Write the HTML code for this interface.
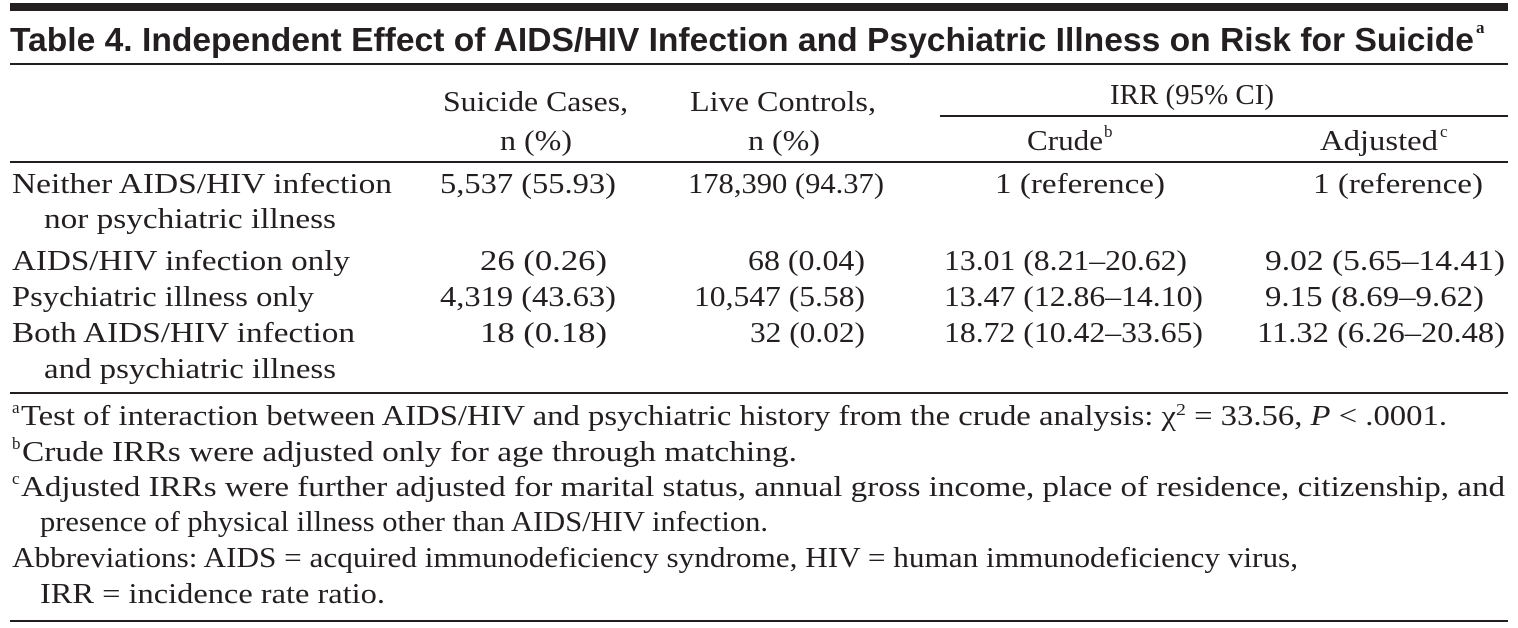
<!DOCTYPE html>
<html><head><meta charset="utf-8"><style>
html,body{margin:0;padding:0;background:#fff;width:1518px;height:628px;overflow:hidden}
svg text{font-family:"Liberation Serif",serif;font-size:28px;fill:#231f20}
svg .t{font-family:"Liberation Sans",sans-serif;font-weight:bold;font-size:33px}
svg .s{font-size:17px}
</style></head><body>
<svg width="1518" height="628">
<rect x="10" y="3" width="1498" height="8" fill="#231f20"/>
<text class="t" x="10" y="51" textLength="1464" lengthAdjust="spacingAndGlyphs">Table 4. Independent Effect of AIDS/HIV Infection and Psychiatric Illness on Risk for Suicide</text>
<text class="s" x="1476" y="33" font-weight="bold" font-family="Liberation Sans">a</text>
<rect x="10" y="63" width="1498" height="2" fill="#231f20"/>

<g>
<text x="443" y="111" textLength="185" lengthAdjust="spacingAndGlyphs">Suicide Cases,</text>
<text x="500" y="150" textLength="72" lengthAdjust="spacingAndGlyphs">n (%)</text>
<text x="690" y="111" textLength="186" lengthAdjust="spacingAndGlyphs">Live Controls,</text>
<text x="748" y="150" textLength="72" lengthAdjust="spacingAndGlyphs">n (%)</text>
<text x="1110" y="104" textLength="164" lengthAdjust="spacingAndGlyphs">IRR (95% CI)</text>
<rect x="940" y="115" width="568" height="2" fill="#231f20"/>
<text x="1027" y="150" textLength="76" lengthAdjust="spacingAndGlyphs">Crude</text>
<text class="s" x="1104" y="137">b</text>
<text x="1320" y="150" textLength="118" lengthAdjust="spacingAndGlyphs">Adjusted</text>
<text class="s" x="1440" y="137">c</text>
</g>
<rect x="10" y="161" width="1498" height="2" fill="#231f20"/>

<g>
<text x="12" y="193" textLength="380" lengthAdjust="spacingAndGlyphs">Neither AIDS/HIV infection</text>
<text x="44" y="228" textLength="292" lengthAdjust="spacingAndGlyphs">nor psychiatric illness</text>
<text x="440" y="193" textLength="176" lengthAdjust="spacingAndGlyphs">5,537 (55.93)</text>
<text x="688" y="193" textLength="196" lengthAdjust="spacingAndGlyphs">178,390 (94.37)</text>
<text x="995" y="193" textLength="170" lengthAdjust="spacingAndGlyphs">1 (reference)</text>
<text x="1313" y="193" textLength="170" lengthAdjust="spacingAndGlyphs">1 (reference)</text>
</g>
<g>
<text x="12" y="270" textLength="338" lengthAdjust="spacingAndGlyphs">AIDS/HIV infection only</text>
<text x="480" y="270" textLength="127" lengthAdjust="spacingAndGlyphs">26 (0.26)</text>
<text x="748" y="270" textLength="117" lengthAdjust="spacingAndGlyphs">68 (0.04)</text>
<text x="944" y="270" textLength="243" lengthAdjust="spacingAndGlyphs">13.01 (8.21–20.62)</text>
<text x="1265" y="270" textLength="240" lengthAdjust="spacingAndGlyphs">9.02 (5.65–14.41)</text>
</g>
<g>
<text x="12" y="306" textLength="302" lengthAdjust="spacingAndGlyphs">Psychiatric illness only</text>
<text x="440" y="306" textLength="176" lengthAdjust="spacingAndGlyphs">4,319 (43.63)</text>
<text x="694" y="306" textLength="171" lengthAdjust="spacingAndGlyphs">10,547 (5.58)</text>
<text x="944" y="306" textLength="259" lengthAdjust="spacingAndGlyphs">13.47 (12.86–14.10)</text>
<text x="1265" y="306" textLength="219" lengthAdjust="spacingAndGlyphs">9.15 (8.69–9.62)</text>
</g>
<g>
<text x="12" y="342" textLength="343" lengthAdjust="spacingAndGlyphs">Both AIDS/HIV infection</text>
<text x="44" y="378" textLength="292" lengthAdjust="spacingAndGlyphs">and psychiatric illness</text>
<text x="480" y="342" textLength="127" lengthAdjust="spacingAndGlyphs">18 (0.18)</text>
<text x="750" y="342" textLength="115" lengthAdjust="spacingAndGlyphs">32 (0.02)</text>
<text x="944" y="342" textLength="259" lengthAdjust="spacingAndGlyphs">18.72 (10.42–33.65)</text>
<text x="1257" y="342" textLength="248" lengthAdjust="spacingAndGlyphs">11.32 (6.26–20.48)</text>
</g>
<rect x="10" y="392" width="1498" height="2" fill="#231f20"/>

<g>
<text class="s" x="12" y="413">a</text>
<text x="21" y="425" textLength="1426" lengthAdjust="spacingAndGlyphs">Test of interaction between AIDS/HIV and psychiatric history from the crude analysis: χ<tspan class="s" dy="-10">2</tspan><tspan dy="10"> = 33.56, </tspan><tspan font-style="italic">P</tspan> &lt; .0001.</text>
<text class="s" x="12" y="449">b</text>
<text x="22" y="461" textLength="775" lengthAdjust="spacingAndGlyphs">Crude IRRs were adjusted only for age through matching.</text>
<text class="s" x="12" y="484">c</text>
<text x="21" y="496" textLength="1484" lengthAdjust="spacingAndGlyphs">Adjusted IRRs were further adjusted for marital status, annual gross income, place of residence, citizenship, and</text>
<text x="40" y="531" textLength="728" lengthAdjust="spacingAndGlyphs">presence of physical illness other than AIDS/HIV infection.</text>
<text x="12" y="567" textLength="1286" lengthAdjust="spacingAndGlyphs">Abbreviations: AIDS = acquired immunodeficiency syndrome, HIV = human immunodeficiency virus,</text>
<text x="40" y="603" textLength="345" lengthAdjust="spacingAndGlyphs">IRR = incidence rate ratio.</text>
</g>
<rect x="10" y="620" width="1498" height="2" fill="#231f20"/>
</svg>
</body></html>
